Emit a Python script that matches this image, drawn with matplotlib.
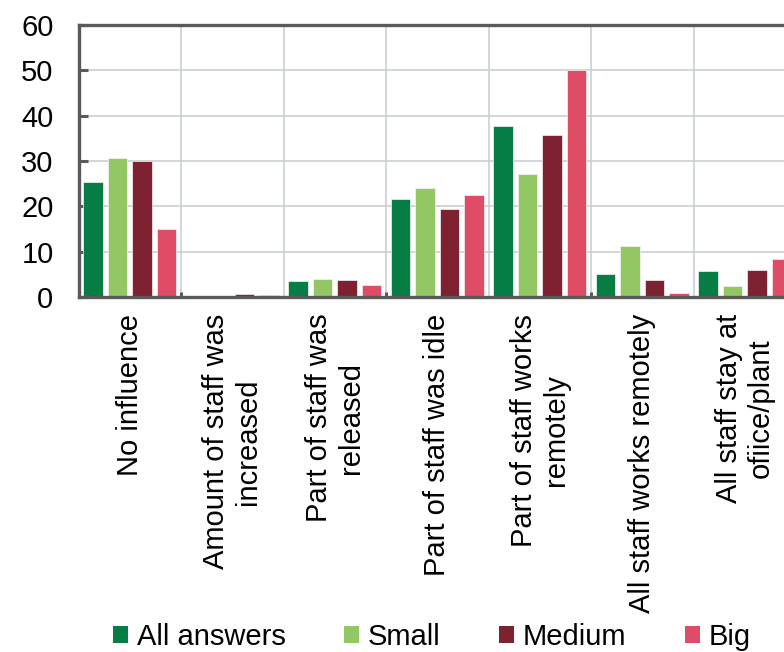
import matplotlib
matplotlib.use("Agg")
import matplotlib.pyplot as plt
import numpy as np

plt.rcParams['font.family'] = ['Liberation Sans', 'DejaVu Sans']

categories = [
    "No influence",
    "Amount of staff was\nincreased",
    "Part of staff was\nreleased",
    "Part of staff was idle",
    "Part of staff works\nremotely",
    "All staff works remotely",
    "All staff stay at\nofiice/plant",
]
series_names = ["All answers", "Small", "Medium", "Big"]
all_answers = [25.4, 0.3, 3.5, 21.7, 37.8, 5.0, 5.7]
small = [30.7, 0.0, 4.0, 24.0, 27.2, 11.2, 2.5]
medium = [30.1, 0.7, 3.7, 19.5, 35.8, 3.7, 5.9]
big = [14.9, 0.4, 2.6, 22.4, 50.0, 0.9, 8.4]
y_ticks = [0, 10, 20, 30, 40, 50, 60]

series = [all_answers, small, medium, big]
colors = ["#077D46", "#93C764", "#7E2231", "#DE4C65"]

fig = plt.figure(figsize=(7.84, 6.52), dpi=100)
# axes run slightly past the right edge of the figure
ax = fig.add_axes([78.5 / 784, 1 - 297 / 652, 717.5 / 784, 272 / 652])

n = len(categories)
x = np.arange(n) + 0.5
pitch = 0.24
width = 0.19
for j, (vals, name, col) in enumerate(zip(series, series_names, colors)):
    ax.bar(x + (j - 1.5) * pitch, vals, width=width, color=col, label=name,
           edgecolor="#f4f4f4", linewidth=0.5, zorder=3)

ax.set_xlim(0, n)
ax.set_ylim(0, 60)
ax.set_yticks(y_ticks)
ax.set_yticklabels([str(v) for v in y_ticks])

# category boundaries carry the vertical grid lines
ax.set_xticks(np.arange(1, n + 1))
ax.set_xticklabels([])
ax.set_xticks(x, minor=True)
ax.set_xticklabels(categories, minor=True, rotation=90, ha="center", va="top",
                   multialignment="center")

ax.grid(True, which="major", color="#C9CFD1", linewidth=1.2, zorder=0)
ax.set_axisbelow(True)

ax.tick_params(axis="y", direction="in", length=6.5, width=2.2, color="#595959",
               labelsize=21, pad=18)
ax.tick_params(axis="x", which="major", length=0)
ax.tick_params(axis="x", which="minor", length=0, labelsize=21, pad=12)

# short marks on every other boundary along the base line
for xb in [1, 3, 5, 7]:
    ax.plot([xb, xb], [0, 1.2], color="#595959", linewidth=2.2, zorder=4,
            solid_capstyle="butt", clip_on=False)

for side in ["left", "bottom", "top", "right"]:
    ax.spines[side].set_color("#595959")
    ax.spines[side].set_linewidth(2.4)
    ax.spines[side].set_zorder(5)

leg = fig.legend(loc="center left", bbox_to_anchor=(113 / 784, 15 / 652),
                 ncol=4, frameon=False, fontsize=21, handlelength=0.52,
                 handleheight=0.52, handletextpad=0.3, columnspacing=2.0,
                 borderpad=0, borderaxespad=0)
for h in leg.legend_handles:
    h.set_edgecolor("none")

fig.savefig("out.png", dpi=100)
